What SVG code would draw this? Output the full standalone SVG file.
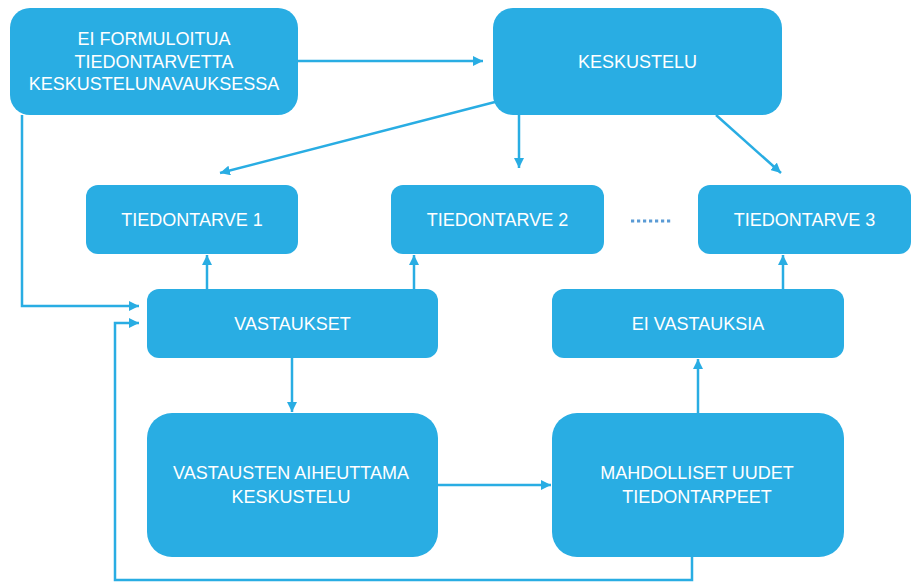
<svg xmlns="http://www.w3.org/2000/svg" width="914" height="584" viewBox="0 0 914 584">
<defs>
<style>
.box{fill:#29ade3;}
.t{fill:#ffffff;font-family:"Liberation Sans",Arial,sans-serif;font-size:18px;text-anchor:middle;}
.c{fill:none;stroke:#29ade3;stroke-width:2.5;}
</style>
<marker id="ah" viewBox="0 0 10 10" refX="10" refY="5" markerWidth="4" markerHeight="4" orient="auto" markerUnits="strokeWidth">
<path d="M0,0 L10,5 L0,10 Z" fill="#29ade3"/>
</marker>
</defs>
<rect width="914" height="584" fill="#ffffff"/>
<g id="connectors">
<path class="c" d="M298,61 H483" marker-end="url(#ah)"/>
<path class="c" d="M495,102 L220,173" marker-end="url(#ah)"/>
<path class="c" d="M519,115 V168" marker-end="url(#ah)"/>
<path class="c" d="M716,115 L781,173" marker-end="url(#ah)"/>
<path class="c" d="M22,115 V306 H139" marker-end="url(#ah)"/>
<path class="c" d="M692,557 V580 H115 V323 H139" marker-end="url(#ah)"/>
<path class="c" d="M207,289 V255" marker-end="url(#ah)"/>
<path class="c" d="M414,289 V255" marker-end="url(#ah)"/>
<path class="c" d="M292,358 V412" marker-end="url(#ah)"/>
<path class="c" d="M438,485 H551" marker-end="url(#ah)"/>
<path class="c" d="M698,413 V359" marker-end="url(#ah)"/>
<path class="c" d="M783,289 V255" marker-end="url(#ah)"/>
<path d="M631,221 H672" fill="none" stroke="#5b9bd5" stroke-width="3" stroke-dasharray="3.2,2.8"/>
</g>
<g id="n1">
<rect class="box" x="10" y="8" width="288" height="107" rx="20"/>
<text class="t" x="154" y="45">EI FORMULOITUA</text>
<text class="t" x="154" y="67.5">TIEDONTARVETTA</text>
<text class="t" x="154" y="90">KESKUSTELUNAVAUKSESSA</text>
</g>
<g id="n2">
<rect class="box" x="493" y="8" width="289" height="107" rx="20"/>
<text class="t" x="637.5" y="68">KESKUSTELU</text>
</g>
<g id="n3">
<rect class="box" x="86" y="185" width="212" height="69" rx="12"/>
<text class="t" x="192" y="226">TIEDONTARVE 1</text>
</g>
<g id="n4">
<rect class="box" x="391" y="185" width="213" height="69" rx="12"/>
<text class="t" x="497.5" y="226">TIEDONTARVE 2</text>
</g>
<g id="n5">
<rect class="box" x="698" y="185" width="213" height="69" rx="12"/>
<text class="t" x="804.5" y="226">TIEDONTARVE 3</text>
</g>
<g id="n6">
<rect class="box" x="147" y="289" width="291" height="69" rx="12"/>
<text class="t" x="292.5" y="330">VASTAUKSET</text>
</g>
<g id="n7">
<rect class="box" x="552" y="289" width="292" height="69" rx="12"/>
<text class="t" x="698" y="330">EI VASTAUKSIA</text>
</g>
<g id="n8">
<rect class="box" x="147" y="413" width="291" height="144" rx="25"/>
<text class="t" x="291" y="479">VASTAUSTEN AIHEUTTAMA</text>
<text class="t" x="291" y="503">KESKUSTELU</text>
</g>
<g id="n9">
<rect class="box" x="552" y="413" width="292" height="144" rx="25"/>
<text class="t" x="697" y="479">MAHDOLLISET UUDET</text>
<text class="t" x="697" y="503">TIEDONTARPEET</text>
</g>
</svg>
